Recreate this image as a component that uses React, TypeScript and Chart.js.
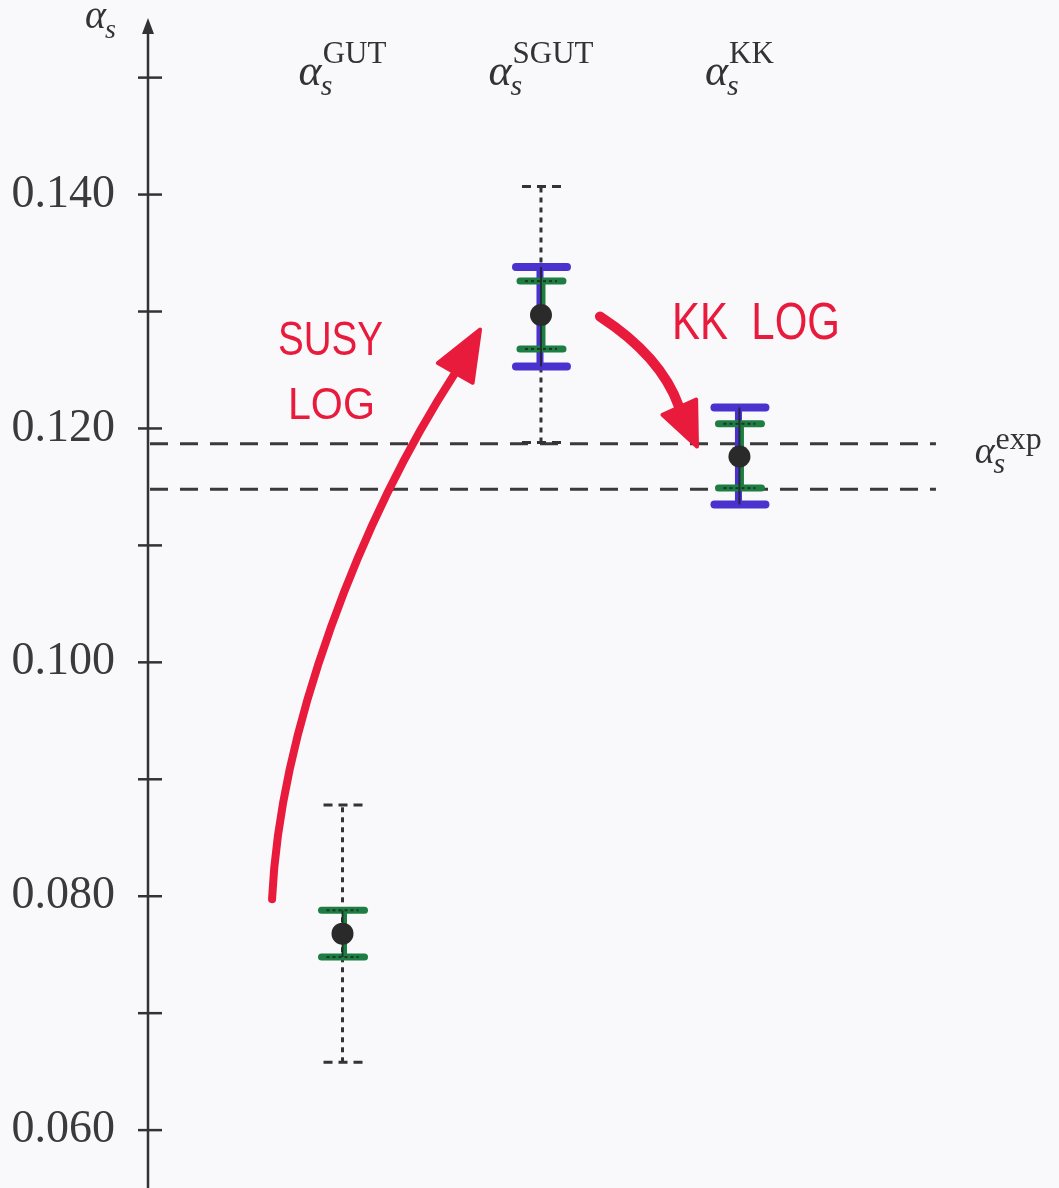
import React, { useEffect, useRef } from "react";
import { Chart, registerables } from "chart.js";

Chart.register(...registerables);

// ---- data ----
const categories = ["GUT", "SGUT", "KK"];
const xPositions = [1, 2, 3];
const centralValues = [0.0768, 0.1297, 0.1176];
const dottedLow: (number | null)[] = [0.0658, 0.1188, null];
const dottedHigh: (number | null)[] = [0.0878, 0.1407, null];
const greenLow = [0.0748, 0.1268, 0.1149];
const greenHigh = [0.0788, 0.1326, 0.1204];
const blueLow: (number | null)[] = [null, 0.1253, 0.1135];
const blueHigh: (number | null)[] = [null, 0.1338, 0.1218];
const expBand = [0.1148, 0.1187];
const expRange = [0.03, 3.99];
const yTickValues = [0.06, 0.07, 0.08, 0.09, 0.1, 0.11, 0.12, 0.13, 0.14, 0.15];
const yMin = 0.05505;
const yMax = 0.1545;
const xMin = 0.02;
const xMax = 4.61;

// annotation arrows in data coordinates: [start, ctrl1, ctrl2, end, tip]
const susyArrow = [
  [0.645, 0.07974],
  [0.685, 0.09427],
  [1.088, 0.11222],
  [1.572, 0.12487],
  [1.693, 0.12846],
];
const kkArrow = [
  [2.297, 0.12957],
  [2.459, 0.12778],
  [2.625, 0.12521],
  [2.695, 0.12188],
  [2.786, 0.11846],
];
const annotationTexts = [
  { text: "SUSY", x: 0.675, y: 0.12632, size: 48, maxW: 105 },
  { text: "LOG", x: 0.725, y: 0.12077, size: 44, maxW: 87 },
  { text: "KK  LOG", x: 2.66, y: 0.12761, size: 52, maxW: 168 },
];
const labelBaselineValue = 0.1494;
const expLabelX = 4.185;
const expLabelY = 0.11706;

const RED = "#e91b3d";
const GREEN = "#1d7d42";
const BLUE = "#4a32cf";
const INK = "#333333";

function drawAlpha(
  ctx: CanvasRenderingContext2D,
  left: number,
  baseline: number,
  alphaSize: number,
  sup: string | null,
  supSize: number,
  subSize: number,
  supRise: number,
  subDrop: number
) {
  ctx.fillStyle = INK;
  ctx.textBaseline = "alphabetic";
  ctx.textAlign = "left";
  ctx.font = `italic ${alphaSize}px "Liberation Serif"`;
  const aw = ctx.measureText("α").width;
  ctx.fillText("α", left, baseline);
  ctx.font = `italic ${subSize}px "Liberation Serif"`;
  ctx.fillText("s", left + aw - 1, baseline + subDrop);
  if (sup) {
    ctx.font = `${supSize}px "Liberation Serif"`;
    ctx.fillText(sup, left + aw + 1, baseline - supRise);
  }
}

function alphaWidth(ctx: CanvasRenderingContext2D, alphaSize: number, sup: string, supSize: number) {
  ctx.font = `italic ${alphaSize}px "Liberation Serif"`;
  const aw = ctx.measureText("α").width;
  ctx.font = `${supSize}px "Liberation Serif"`;
  return aw + 1 + ctx.measureText(sup).width;
}

function drawArrow(chart: any, pts: number[][], lw: number, headLen: number, headW: number) {
  const ctx = chart.ctx as CanvasRenderingContext2D;
  const xs = chart.scales.x;
  const ys = chart.scales.y;
  const p = pts.map((q) => [xs.getPixelForValue(q[0]), ys.getPixelForValue(q[1])]);
  ctx.save();
  ctx.strokeStyle = RED;
  ctx.fillStyle = RED;
  ctx.lineWidth = lw;
  ctx.lineCap = "round";
  ctx.beginPath();
  ctx.moveTo(p[0][0], p[0][1]);
  ctx.bezierCurveTo(p[1][0], p[1][1], p[2][0], p[2][1], p[3][0], p[3][1]);
  ctx.stroke();
  const tip = p[4];
  let dx = tip[0] - p[3][0];
  let dy = tip[1] - p[3][1];
  const L = Math.hypot(dx, dy);
  dx /= L;
  dy /= L;
  const bx = tip[0] - dx * headLen;
  const by = tip[1] - dy * headLen;
  const nx = -dy;
  const ny = dx;
  ctx.lineJoin = "round";
  ctx.lineWidth = 4;
  ctx.beginPath();
  ctx.moveTo(tip[0], tip[1]);
  ctx.lineTo(bx + (nx * headW) / 2, by + (ny * headW) / 2);
  ctx.lineTo(bx - (nx * headW) / 2, by - (ny * headW) / 2);
  ctx.closePath();
  ctx.fill();
  ctx.stroke();
  ctx.restore();
}

const customPlugin = {
  id: "physicsPlot",
  beforeDraw(chart: any) {
    const ctx = chart.ctx as CanvasRenderingContext2D;
    ctx.save();
    ctx.fillStyle = "#f9f9fb";
    ctx.fillRect(0, 0, chart.width, chart.height);
    ctx.restore();
  },
  beforeDatasetDraw(chart: any, args: any) {
    if (args.index !== 0) return;
    const ctx = chart.ctx as CanvasRenderingContext2D;
    const xs = chart.scales.x;
    const ys = chart.scales.y;
    ctx.save();
    ctx.lineCap = "butt";
    xPositions.forEach((xv, i) => {
      const x = xs.getPixelForValue(xv);
      // dotted (total) error
      const dl = dottedLow[i];
      const dh = dottedHigh[i];
      if (dl !== null && dh !== null) {
        const yl = ys.getPixelForValue(dl);
        const yh = ys.getPixelForValue(dh);
        ctx.strokeStyle = INK;
        ctx.lineWidth = 3;
        ctx.setLineDash([5, 5]);
        ctx.beginPath();
        ctx.moveTo(x, yl);
        ctx.lineTo(x, yh);
        ctx.stroke();
        ctx.setLineDash([9, 6]);
        ctx.lineWidth = 3;
        [yl, yh].forEach((yy) => {
          ctx.beginPath();
          ctx.moveTo(x - 19, yy);
          ctx.lineTo(x + 20, yy);
          ctx.stroke();
        });
        ctx.setLineDash([]);
      }
      // blue band
      const bl = blueLow[i];
      const bh = blueHigh[i];
      ctx.lineCap = "round";
      if (bl !== null && bh !== null) {
        const yl = ys.getPixelForValue(bl);
        const yh = ys.getPixelForValue(bh);
        ctx.strokeStyle = BLUE;
        ctx.lineWidth = 7;
        ctx.beginPath();
        ctx.moveTo(x - 1, yl);
        ctx.lineTo(x - 1, yh);
        ctx.stroke();
        ctx.lineWidth = 8;
        [yl, yh].forEach((yy) => {
          ctx.beginPath();
          ctx.moveTo(x - 25, yy);
          ctx.lineTo(x + 26, yy);
          ctx.stroke();
        });
      }
      // green band
      {
        const yl = ys.getPixelForValue(greenLow[i]);
        const yh = ys.getPixelForValue(greenHigh[i]);
        ctx.strokeStyle = GREEN;
        ctx.lineWidth = 5;
        ctx.beginPath();
        ctx.moveTo(x + 2, yl);
        ctx.lineTo(x + 2, yh);
        ctx.stroke();
        ctx.lineWidth = 7;
        [yl, yh].forEach((yy) => {
          ctx.beginPath();
          ctx.moveTo(x - 21, yy);
          ctx.lineTo(x + 22, yy);
          ctx.stroke();
        });
      }
      // thin black printed error bar
      ctx.lineCap = "butt";
      ctx.strokeStyle = "rgba(30,30,30,0.75)";
      ctx.lineWidth = 2;
      const lo = bl !== null ? bl : greenLow[i];
      const hi = bh !== null ? bh : greenHigh[i];
      ctx.beginPath();
      ctx.moveTo(x, ys.getPixelForValue(lo));
      ctx.lineTo(x, ys.getPixelForValue(hi));
      ctx.stroke();
      ctx.setLineDash([3, 3]);
      [greenLow[i], greenHigh[i]].forEach((v) => {
        const yy = ys.getPixelForValue(v);
        ctx.beginPath();
        ctx.moveTo(x - 16, yy);
        ctx.lineTo(x + 16, yy);
        ctx.stroke();
      });
      ctx.setLineDash([]);
    });
    ctx.restore();
  },
  afterDatasetsDraw(chart: any) {
    const ctx = chart.ctx as CanvasRenderingContext2D;
    const xs = chart.scales.x;
    const ys = chart.scales.y;
    const area = chart.chartArea;
    ctx.save();
    // axis line with arrow
    const ax = area.left;
    ctx.strokeStyle = INK;
    ctx.fillStyle = INK;
    ctx.lineWidth = 2.5;
    ctx.beginPath();
    ctx.moveTo(ax, chart.height);
    ctx.lineTo(ax, area.top + 5);
    ctx.stroke();
    ctx.beginPath();
    ctx.moveTo(ax, area.top - 7);
    ctx.lineTo(ax - 6, area.top + 9);
    ctx.lineTo(ax + 6, area.top + 9);
    ctx.closePath();
    ctx.fill();
    // tick marks crossing the axis
    yTickValues.forEach((v) => {
      const yy = ys.getPixelForValue(v);
      ctx.beginPath();
      ctx.moveTo(ax - 10, yy);
      ctx.lineTo(ax + 14, yy);
      ctx.stroke();
    });
    // axis title alpha_s
    drawAlpha(ctx, ax - 63, area.top + 3, 40, null, 0, 28, 0, 10);
    // category labels
    const baseY = ys.getPixelForValue(labelBaselineValue);
    categories.forEach((c, i) => {
      const cx = xs.getPixelForValue(xPositions[i]);
      const w = alphaWidth(ctx, 44, c, 31);
      drawAlpha(ctx, cx - w / 2, baseY, 44, c, 31, 30, 22, 10);
    });
    // exp label
    drawAlpha(
      ctx,
      xs.getPixelForValue(expLabelX),
      ys.getPixelForValue(expLabelY),
      38,
      "exp",
      32,
      30,
      14,
      10
    );
    // red annotations
    drawArrow(chart, susyArrow, 8, 50, 40);
    drawArrow(chart, kkArrow, 10, 43, 37);
    ctx.fillStyle = RED;
    ctx.textAlign = "left";
    ctx.textBaseline = "alphabetic";
    annotationTexts.forEach((t) => {
      ctx.font = `${t.size}px "Liberation Sans"`;
      ctx.fillText(t.text, xs.getPixelForValue(t.x), ys.getPixelForValue(t.y), t.maxW);
    });
    ctx.restore();
  },
};

export default function App() {
  const ref = useRef<HTMLCanvasElement | null>(null);
  useEffect(() => {
    if (!ref.current) return;
    const chart = new Chart(ref.current, {
      type: "scatter",
      data: {
        datasets: [
          {
            label: "central",
            data: xPositions.map((x, i) => ({ x, y: centralValues[i] })),
            pointRadius: 11,
            pointBackgroundColor: "#2a2a2a",
            pointBorderWidth: 0,
            showLine: false,
          } as any,
          {
            type: "line",
            label: "exp high",
            data: expRange.map((x) => ({ x, y: expBand[1] })),
            borderColor: "#3a3a3a",
            borderWidth: 3,
            borderDash: [18, 12],
            pointRadius: 0,
          } as any,
          {
            type: "line",
            label: "exp low",
            data: expRange.map((x) => ({ x, y: expBand[0] })),
            borderColor: "#3a3a3a",
            borderWidth: 3,
            borderDash: [18, 12],
            pointRadius: 0,
          } as any,
        ],
      },
      options: {
        animation: false,
        responsive: false,
        maintainAspectRatio: false,
        layout: { autoPadding: false, padding: { top: 25, left: 0, right: 0, bottom: 0 } },
        plugins: { legend: { display: false }, tooltip: { enabled: false } },
        scales: {
          x: { type: "linear", min: xMin, max: xMax, display: false },
          y: {
            type: "linear",
            min: yMin,
            max: yMax,
            afterBuildTicks: (s: any) => {
              s.ticks = yTickValues.map((v) => ({ value: v }));
            },
            afterFit: (s: any) => {
              s.width = 148;
              s.paddingTop = 0;
              s.paddingBottom = 0;
            },
            grid: {
              display: true,
              drawOnChartArea: false,
              drawTicks: true,
              tickLength: 10,
              color: "rgba(0,0,0,0)",
            },
            border: { display: false },
            ticks: {
              autoSkip: false,
              padding: 23,
              color: "#3a3a3a",
              font: { family: "Liberation Serif", size: 46 },
              callback: (v: any) =>
                Math.round(Number(v) * 1000) % 20 === 0 ? Number(v).toFixed(3) : "",
            },
          },
        },
      },
      plugins: [customPlugin],
    });
    return () => chart.destroy();
  }, []);
  return (
    <div style={{ position: "absolute", left: 0, top: 0, width: 1059, height: 1188 }}>
      <canvas ref={ref} width={1059} height={1188} style={{ display: "block" }} />
    </div>
  );
}
